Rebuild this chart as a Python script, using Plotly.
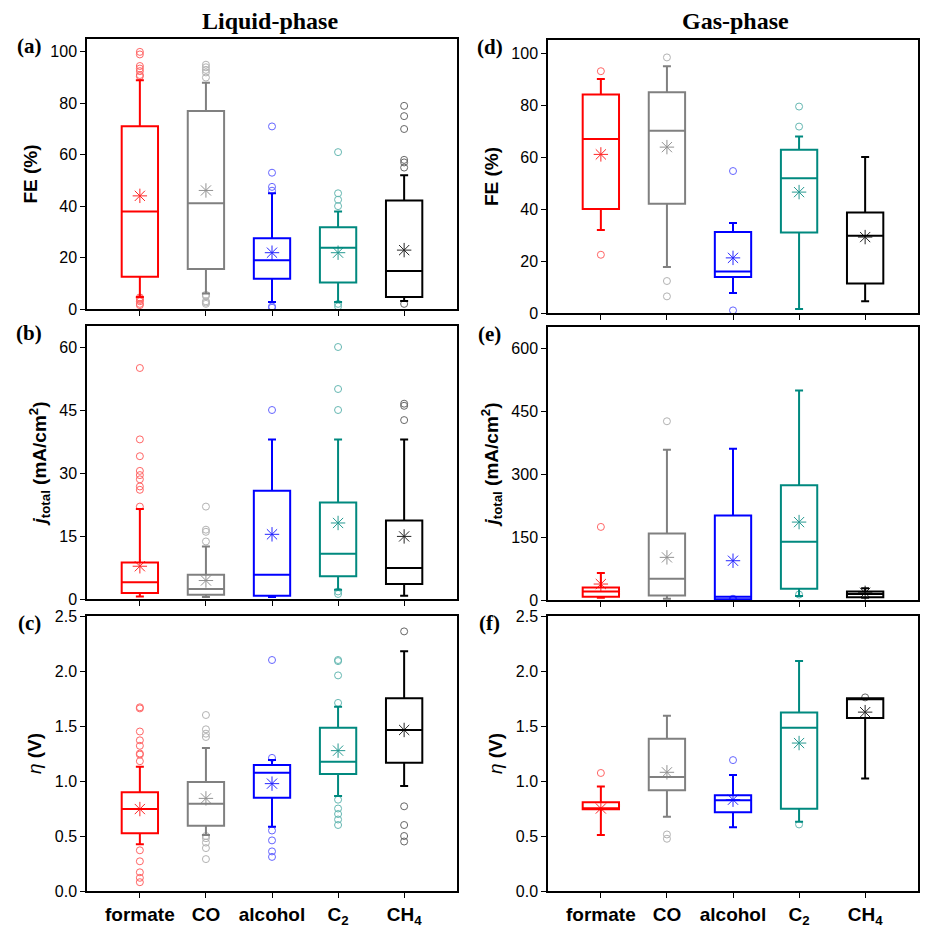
import plotly.graph_objects as go

categories = ["formate", "CO", "alcohol", "C<sub>2</sub>", "CH<sub>4</sub>"]
colors = ["#FF0000", "#808080", "#0000FF", "#00897F", "#000000"]

# ---------- (a) FE liquid ----------
a_q1 = [12.5, 15.6, 11.8, 10.3, 4.7]
a_med = [37.9, 41.1, 19.0, 23.8, 14.8]
a_q3 = [71.1, 77.0, 27.5, 31.8, 42.2]
a_lo = [4.7, 6.0, 2.7, 2.7, 3.1]
a_hi = [89.0, 88.0, 45.0, 37.9, 52.0]
a_mean = [44.0, 46.1, 21.9, 21.9, 22.9]
a_out = [
    [100, 99, 94.5, 93.5, 92.5, 91, 90.5, 4.5, 4, 3.5, 3, 2, 1.5],
    [95, 94, 93, 92, 90, 5.5, 5, 3, 2.5, 2],
    [71, 53, 47.5, 46, 1, 0.5],
    [61, 45, 42.5, 40, 2, 1],
    [79, 75, 70, 58, 57, 55, 2],
]

# ---------- (b) j liquid ----------
b_q1 = [1.4, 1.0, 0.8, 5.4, 3.6]
b_med = [4.0, 2.4, 5.8, 10.8, 7.4]
b_q3 = [8.7, 5.8, 25.8, 23.0, 18.7]
b_lo = [0.6, 0.5, 0.5, 2.2, 0.8]
b_hi = [21.4, 12.5, 38.0, 38.0, 38.0]
b_mean = [7.8, 4.4, 15.4, 18.1, 14.9]
b_out = [
    [55, 38, 34, 30.5, 29.5, 28.5, 26.8, 26, 22],
    [22, 16.5, 16, 13.7],
    [45],
    [60, 50, 45, 1.8, 1.2],
    [46.5, 46, 42.6],
]

# ---------- (c) eta liquid ----------
c_q1 = [0.524, 0.594, 0.848, 1.064, 1.167]
c_med = [0.745, 0.794, 1.076, 1.176, 1.464]
c_q3 = [0.897, 0.99, 1.145, 1.485, 1.752]
c_lo = [0.424, 0.51, 0.585, 0.864, 0.955]
c_hi = [1.13, 1.30, 1.19, 1.676, 2.18]
c_mean = [0.745, 0.842, 0.976, 1.276, 1.464]
c_out = [
    [1.67, 1.66, 1.45, 1.37, 1.32, 1.25, 1.24, 1.18, 0.37, 0.27, 0.17, 0.12, 0.08],
    [1.6, 1.47, 1.43, 1.4, 0.5, 0.48, 0.44, 0.39, 0.29],
    [2.1, 1.21, 0.55, 0.46, 0.36, 0.31],
    [2.1, 2.09, 1.96, 1.71, 0.83, 0.75, 0.7, 0.65, 0.6],
    [2.36, 0.77, 0.6, 0.5, 0.45],
]

# ---------- (d) FE gas ----------
d_q1 = [40.0, 42.0, 13.8, 31.0, 11.3]
d_med = [66.9, 70.1, 16.0, 51.8, 29.7]
d_q3 = [84.0, 84.9, 31.2, 62.8, 38.7]
d_lo = [31.9, 17.7, 7.7, 1.5, 4.5]
d_hi = [90.0, 94.9, 34.6, 67.9, 60.0]
d_mean = [61.0, 63.8, 21.2, 46.5, 29.2]
d_out = [
    [93, 22.4],
    [98.3, 12.3, 6.4],
    [54.6, 1.0],
    [79.4, 71.7],
    [],
]

# ---------- (e) j gas ----------
e_q1 = [8.0, 11.0, 1.6, 27.0, 6.5]
e_med = [20.0, 50.7, 8.0, 138.7, 14.0]
e_q3 = [30.0, 158.5, 201.0, 273.0, 20.0]
e_lo = [5.5, 3.0, 0.0, 9.5, 5.5]
e_hi = [64.0, 358.0, 360.0, 499.0, 28.0]
e_mean = [38.0, 101.5, 93.5, 185.5, 17.0]
e_out = [
    [174],
    [425.6],
    [3, 2, 1, 0.5],
    [13],
    [],
]

# ---------- (f) eta gas ----------
f_q1 = [0.744, 0.916, 0.716, 0.747, 1.572]
f_med = [0.75, 1.037, 0.825, 1.484, 1.75]
f_q3 = [0.807, 1.384, 0.871, 1.623, 1.753]
f_lo = [0.508, 0.674, 0.58, 0.629, 1.022]
f_hi = [0.949, 1.593, 1.055, 2.092, 1.753]
f_mean = [0.75, 1.079, 0.83, 1.345, 1.626]
f_out = [
    [1.073],
    [0.514, 0.475],
    [1.19],
    [0.605],
    [1.76],
]

panels = [
    (a_q1, a_med, a_q3, a_lo, a_hi, a_mean, a_out, 1, [0, 105], 20, "<b>FE (%)</b>", "(a)", 0, 0),
    (b_q1, b_med, b_q3, b_lo, b_hi, b_mean, b_out, 2, [0, 65], 15,
     "<b><i>j</i><sub>total</sub> (mA/cm<sup>2</sup>)</b>", "(b)", 0, 1),
    (c_q1, c_med, c_q3, c_lo, c_hi, c_mean, c_out, 3, [0, 2.5], 0.5, "<i>η</i><b> (V)</b>", "(c)", 0, 2),
    (d_q1, d_med, d_q3, d_lo, d_hi, d_mean, d_out, 4, [0, 105], 20, "<b>FE (%)</b>", "(d)", 1, 0),
    (e_q1, e_med, e_q3, e_lo, e_hi, e_mean, e_out, 5, [0, 650], 150,
     "<b><i>j</i><sub>total</sub> (mA/cm<sup>2</sup>)</b>", "(e)", 1, 1),
    (f_q1, f_med, f_q3, f_lo, f_hi, f_mean, f_out, 6, [0, 2.5], 0.5, "<i>η</i><b> (V)</b>", "(f)", 1, 2),
]

W, H = 938, 937
col_px = [(87, 457), (548, 918)]
row_px = [[(39, 309), (326, 599), (616, 891)], [(40, 313), (327, 600), (616, 891)]]

fig = go.Figure()
layout = {}
annotations = []
sans = "Liberation Sans, Arial, sans-serif"
serif = "Liberation Serif, Times New Roman, serif"

for (q1, med, q3, lo, hi, mn, outs, k, yr, dt, ytitle, lab, col, row) in panels:
    xa = "x" if k == 1 else f"x{k}"
    ya = "y" if k == 1 else f"y{k}"
    for i in range(5):
        c = colors[i]
        fig.add_trace(go.Box(
            x=[i], q1=[q1[i]], median=[med[i]], q3=[q3[i]],
            lowerfence=[lo[i]], upperfence=[hi[i]],
            width=0.55, whiskerwidth=0.22, boxpoints=False,
            line=dict(color=c, width=2), fillcolor="rgba(0,0,0,0)",
            xaxis=xa, yaxis=ya, showlegend=False, hoverinfo="skip"))
        fig.add_trace(go.Scatter(
            x=[i], y=[mn[i]], mode="markers",
            marker=dict(symbol="asterisk-open", size=12, color=c, line=dict(color=c, width=1)),
            opacity=0.85, xaxis=xa, yaxis=ya, showlegend=False))
        if outs[i]:
            fig.add_trace(go.Scatter(
                x=[i] * len(outs[i]), y=outs[i], mode="markers",
                marker=dict(symbol="circle-open", size=7, color=c, line=dict(color=c, width=1)),
                opacity=0.6, xaxis=xa, yaxis=ya, showlegend=False))
    x0, x1 = col_px[col]
    t, b = row_px[col][row]
    xkey = "xaxis" if k == 1 else f"xaxis{k}"
    ykey = "yaxis" if k == 1 else f"yaxis{k}"
    layout[xkey] = dict(
        domain=[x0 / W, x1 / W], anchor=ya, range=[-0.8, 4.8], automargin=False,
        tickmode="array", tickvals=list(range(5)), ticktext=[f"<b>{c}</b>" for c in categories],
        showticklabels=(row == 2), ticks="outside", ticklen=5, tickwidth=1.2, tickcolor="black",
        showline=True, mirror=True, linecolor="black", linewidth=1.5, showgrid=False, zeroline=False,
        tickfont=dict(family=sans, size=19, color="black"))
    layout[ykey] = dict(
        domain=[1 - b / H, 1 - t / H], anchor=xa, range=yr, dtick=dt, tick0=0, automargin=False,
        tickformat=".1f" if dt == 0.5 else "d",
        ticks="outside", ticklen=5, tickwidth=1.2, tickcolor="black",
        showline=True, mirror=True, linecolor="black", linewidth=1.5, showgrid=False, zeroline=False,
        tickfont=dict(family=sans, size=16, color="black"),
        title=dict(text=ytitle, font=dict(family=sans, size=19, color="black"), standoff=8))
    annotations.append(dict(
        text=f"<b>{lab}</b>", x=(x0 - 58) / W, y=1 - (t + 7) / H, xref="paper", yref="paper",
        xanchor="center", yanchor="middle", showarrow=False,
        font=dict(family=serif, size=21, color="black")))

annotations.append(dict(text="<b>Liquid-phase</b>", x=270 / W, y=1 - 21 / H, xref="paper", yref="paper",
                        showarrow=False, xanchor="center", yanchor="middle",
                        font=dict(family=serif, size=24, color="black")))
annotations.append(dict(text="<b>Gas-phase</b>", x=735 / W, y=1 - 21 / H, xref="paper", yref="paper",
                        showarrow=False, xanchor="center", yanchor="middle",
                        font=dict(family=serif, size=24, color="black")))

fig.update_layout(
    width=W, height=H, margin=dict(l=0, r=0, t=0, b=0, autoexpand=False),
    paper_bgcolor="white", plot_bgcolor="white",
    annotations=annotations, **layout)

fig.write_html("out.html", config={"displayModeBar": False},
               post_script="document.body.style.margin='0';document.body.style.overflow='hidden';")
